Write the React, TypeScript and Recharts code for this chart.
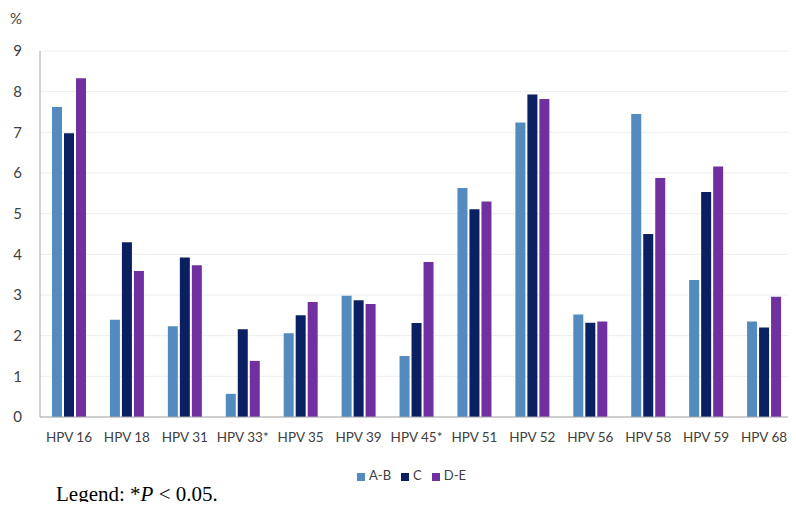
import React from "react";
import { BarChart, Bar, XAxis, YAxis, CartesianGrid, Legend } from "recharts";

const types = [
  "HPV 16", "HPV 18", "HPV 31", "HPV 33*", "HPV 35", "HPV 39", "HPV 45*",
  "HPV 51", "HPV 52", "HPV 56", "HPV 58", "HPV 59", "HPV 68",
];
const groupAB = [7.62, 2.39, 2.23, 0.57, 2.06, 2.98, 1.5, 5.63, 7.24, 2.52, 7.45, 3.37, 2.35];
const groupC = [6.98, 4.3, 3.92, 2.16, 2.5, 2.87, 2.31, 5.11, 7.93, 2.32, 4.5, 5.53, 2.2];
const groupDE = [8.33, 3.59, 3.73, 1.38, 2.83, 2.78, 3.81, 5.3, 7.82, 2.35, 5.88, 6.16, 2.96];
const yTicks = [0, 1, 2, 3, 4, 5, 6, 7, 8, 9];

const data = types.map((t, i) => ({
  name: t,
  "A-B": groupAB[i],
  C: groupC[i],
  "D-E": groupDE[i],
}));

const font = "Lato, 'Open Sans', sans-serif";

export default function App() {
  return (
    <div style={{ position: "relative", width: 796, height: 510, margin: -8, background: "#fff", overflow: "hidden" }}>
      <div style={{ position: "absolute", left: 10, top: 9, fontFamily: font, fontSize: 15, color: "#404040" }}>%</div>
      <BarChart
        width={796}
        height={477}
        data={data}
        margin={{ top: 51, right: 3, left: 0, bottom: 0 }}
        barSize={10}
        barGap={2}
      >
        <CartesianGrid vertical={false} stroke="#ededed" />
        <XAxis
          dataKey="name"
          axisLine={{ stroke: "#a6a6a6" }}
          tickLine={false}
          tickMargin={9}
          height={43}
          interval={0}
          tick={{ fontSize: 13.5, fill: "#404040", fontFamily: font }}
        />
        <YAxis
          domain={[0, 9]}
          ticks={yTicks}
          width={40}
          axisLine={{ stroke: "#a6a6a6" }}
          tickLine={false}
          tickMargin={12}
          tick={{ fontSize: 15, fill: "#404040", fontFamily: font }}
        />
        <Legend
          iconType="square"
          iconSize={8}
          wrapperStyle={{ top: 467, left: 40, width: 753, height: 17, fontFamily: font, fontSize: 13, lineHeight: "17px" }}
          formatter={(v) => <span style={{ color: "#404040" }}>{v}</span>}
        />
        <Bar dataKey="A-B" fill="#538bbf" isAnimationActive={false} />
        <Bar dataKey="C" fill="#0b2060" isAnimationActive={false} />
        <Bar dataKey="D-E" fill="#7030a0" isAnimationActive={false} />
      </BarChart>
      <div style={{ position: "absolute", left: 56, top: 482, fontFamily: "'Liberation Serif', 'Times New Roman', serif", fontSize: 21, color: "#000", whiteSpace: "nowrap" }}>
        Legend: *<i>P</i> &lt; 0.05.
      </div>
    </div>
  );
}
